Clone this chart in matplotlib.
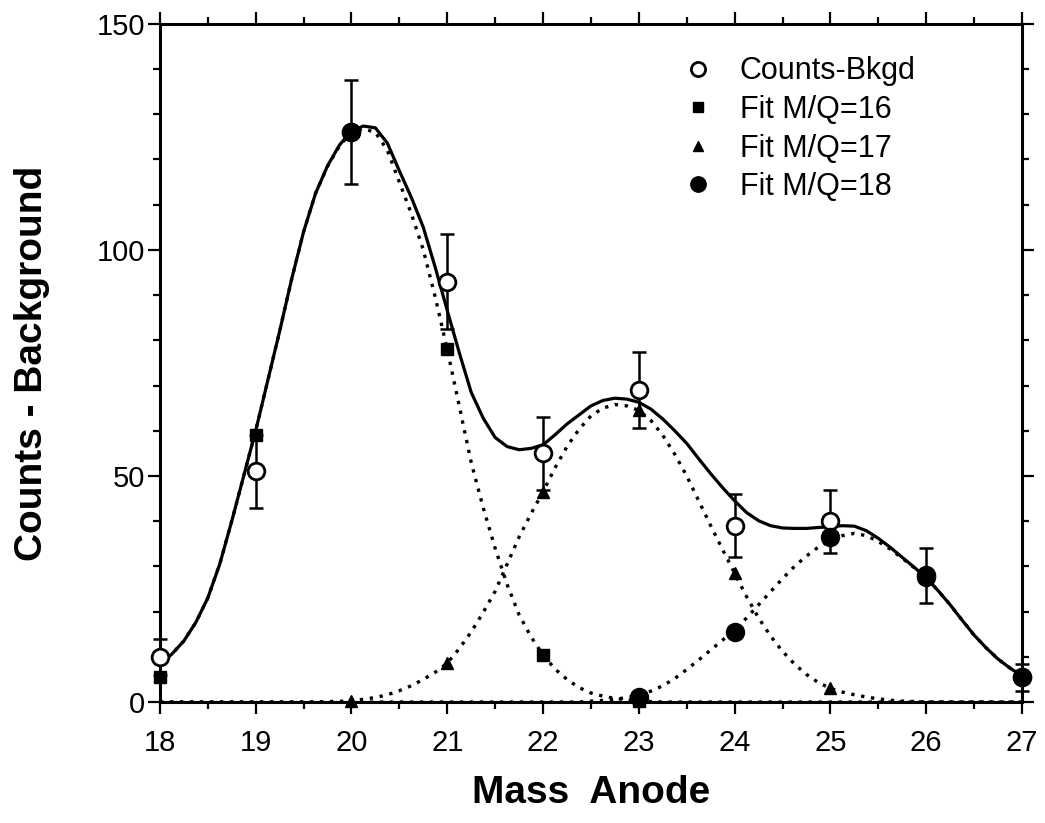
import numpy as np
import matplotlib
matplotlib.use('Agg')
import matplotlib.pyplot as plt
from matplotlib.ticker import MultipleLocator

plt.rcParams['font.family'] = ['Liberation Sans', 'DejaVu Sans']

# measured points (Counts - Background) with error bars
mass = [18, 19, 20, 21, 22, 23, 24, 25, 26, 27]
counts = [10, 51, 126, 93, 55, 69, 39, 40, 28, 5.5]
counts_err = [4, 8, 11.5, 10.5, 8, 8.5, 7, 7, 6, 3]

# fit values at each anode
fit16_x = [18, 19, 20, 21, 22, 23]
fit16_y = [5.6, 59, 126, 78, 10.4, 0.3]
fit17_x = [20, 21, 22, 23, 24, 25]
fit17_y = [0.3, 8.6, 46.5, 64.5, 28.5, 3.1]
fit18_x = [20, 23, 24, 25, 26, 27]
fit18_y = [126, 1.2, 15.5, 36.5, 27.7, 5.5]

# curves every 1/8 anode, 18 ... 27
curve_x = np.linspace(18, 27, 73)
total = [8.5, 10.6, 13.5, 17.6, 23, 30.5, 40, 50,
         60, 71, 82, 93.5, 104, 112.5, 118.6, 123.2,
         126.3, 127.4, 127, 123.6, 117.5, 111.6, 105, 96.1,
         86.6, 77.3, 68.5, 62.8, 58.5, 56.5, 55.8, 56.1,
         56.9, 59.1, 61.5, 63.5, 65.5, 66.7, 67.2, 67,
         66.3, 64.8, 62.6, 60, 57.2, 53.8, 50.5, 47.4,
         44.5, 41.9, 40.1, 39, 38.5, 38.4, 38.4, 38.6,
         38.8, 39, 38.9, 37.9, 36.2, 34.2, 32, 29.8,
         27.5, 24.6, 21.5, 18.1, 14.8, 12, 9.5, 7.5,
         5.8]
comp16 = [8.5, 10.6, 13.5, 17.6, 23, 30.5, 40, 50, 60, 71, 82, 93.5, 104,
          112.5, 118.5, 123, 126, 126.8, 126, 122, 115, 108, 100, 89.5, 78,
          65.5, 53, 43, 34, 26, 19.3, 14.4, 10.4, 7.3, 5, 3.2, 2, 1.3, 0.8,
          0.5, 0.3, 0.1] + [0] * 31
comp17 = [0] * 14 + [0.1, 0.15] + [
    0.3, 0.6, 1, 1.6, 2.5, 3.6, 5, 6.6, 8.6, 11.8, 15.5, 19.8, 24.5, 30.5,
    36.5, 41.7, 46.5, 51.8, 56.5, 60.3, 63.3, 65, 65.8, 65.5, 64.5, 62.3, 59,
    54.8, 50, 44.5, 39, 33.7, 28.5, 23.3, 18.6, 14.6, 11.2, 8.4, 6.1, 4.3, 3,
    2.2, 1.6, 1.1, 0.7, 0.4, 0.2, 0.1, 0] + [0] * 8
comp18 = [0] * 36 + [
    0.2, 0.35, 0.6, 1, 1.5, 2.4, 3.6, 5.2, 7.2, 9.3, 11.5, 13.7, 16, 18.6,
    21.5, 24.4, 27.3, 30, 32.3, 34.3, 35.8, 36.8, 37.3, 36.8, 35.5, 33.8, 31.8,
    29.7, 27.5, 24.6, 21.5, 18.1, 14.8, 12, 9.5, 7.5, 5.8]

fig = plt.figure(figsize=(10.45, 8.23), dpi=100)
ax = fig.add_axes([0.153, 0.147, 0.825, 0.824])

dots = (0, (1, 2))
for comp in (comp16, comp17, comp18):
    ax.plot(curve_x, comp, color='k', lw=2.4, linestyle=dots, zorder=2)
ax.plot(curve_x, total, color='k', lw=2.3, zorder=3)

ax.errorbar(mass, counts, yerr=counts_err, fmt='none', ecolor='k',
            elinewidth=1.8, capsize=5, capthick=1.8, zorder=4, clip_on=False)
h0, = ax.plot(mass, counts, 'o', ms=12, mfc='white', mec='k', mew=2,
              ls='none', zorder=5, clip_on=False, label='Counts-Bkgd')
h1, = ax.plot(fit16_x, fit16_y, 's', ms=8, color='k', ls='none', zorder=6,
              clip_on=False, label='Fit M/Q=16')
h2, = ax.plot(fit17_x, fit17_y, '^', ms=9, color='k', ls='none', zorder=6,
              clip_on=False, label='Fit M/Q=17')
h3, = ax.plot(fit18_x, fit18_y, 'o', ms=13, color='k', ls='none', zorder=7,
              clip_on=False, label='Fit M/Q=18')

ax.set_xlim(18, 27)
ax.set_ylim(0, 150)
ax.xaxis.set_major_locator(MultipleLocator(1))
ax.xaxis.set_minor_locator(MultipleLocator(0.5))
ax.yaxis.set_major_locator(MultipleLocator(50))
ax.yaxis.set_minor_locator(MultipleLocator(10))
ax.tick_params(which='both', direction='out', top=True, right=True, width=1.6)
ax.tick_params(which='major', length=8.5, labelsize=21)
ax.tick_params(which='minor', length=5)
ax.tick_params(axis='x', which='major', pad=11)
ax.tick_params(axis='y', which='major', pad=2)
for s in ax.spines.values():
    s.set_linewidth(2.2)

ax.set_xlabel('Mass  Anode', fontsize=28, fontweight='bold', labelpad=13)
ax.set_ylabel('Counts - Background', fontsize=28, fontweight='bold', labelpad=34)

leg = ax.legend(handles=[h0, h1, h2, h3], loc='upper left',
                bbox_to_anchor=(0.607, 0.952), frameon=False, fontsize=22,
                handlelength=1.0, handletextpad=0.85, labelspacing=0.28,
                borderpad=0, borderaxespad=0, markerscale=0.85)

fig.savefig('out.png', dpi=100)
